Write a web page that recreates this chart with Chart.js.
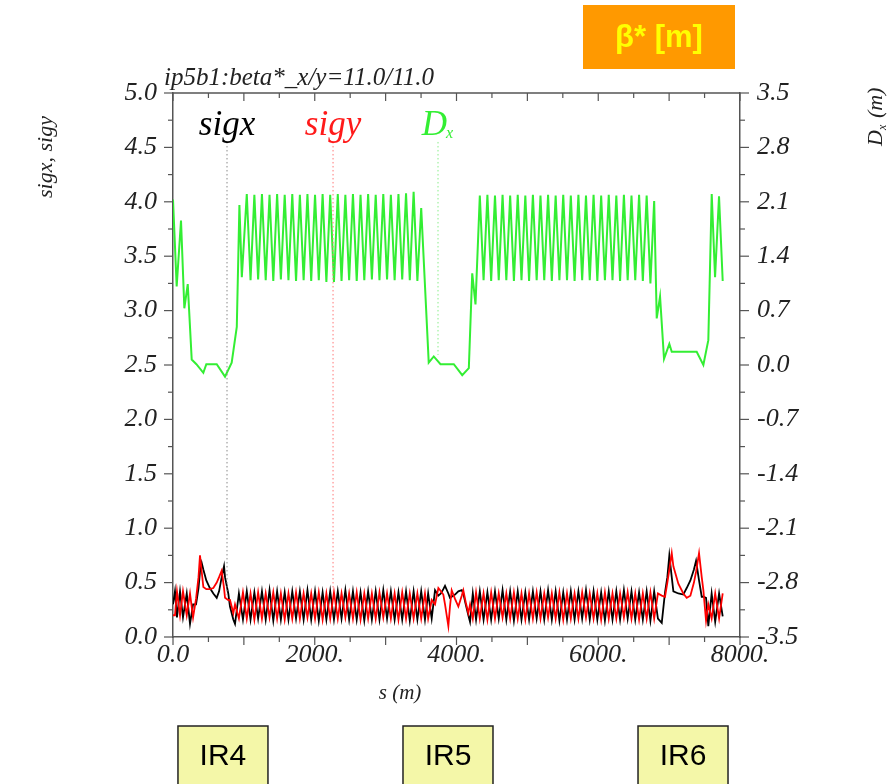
<!DOCTYPE html>
<html>
<head>
<meta charset="utf-8">
<script src="https://cdn.jsdelivr.net/npm/chart.js@4.4.1/dist/chart.umd.min.js"></script>
<style>
  html, body { margin: 0; padding: 0; background: #fff; }
  #container { position: relative; width: 894px; height: 784px; }
</style>
</head>
<body>
<div id="container"><canvas id="myChart"></canvas></div>
<script>
// ---- data (s in m) ----
// dispersion D (right axis, m)
const ir4DxS = [0, 52, 113, 160, 208, 264, 330, 428, 470, 522, 570, 617, 734, 828, 900, 937, 971];
const ir4Dx  = [2.13, 1.01, 1.86, 0.73, 1.04, 0.07, 0.01, -0.10, 0.01, 0.01, 0.01, 0.01, -0.15, 0.03, 0.49, 2.06, 1.13];

const arc1S = [1041,1094, 1148,1201, 1255,1308, 1362,1415, 1469,1522, 1576,1629, 1683,1736, 1790,1843,
               1897,1950, 2004,2057, 2111,2164, 2218,2271, 2325,2378, 2432,2485, 2539,2592, 2646,2699,
               2753,2806, 2860,2913, 2967,3020, 3074,3127, 3181,3234, 3288,3341, 3395,3448, 3502];
const arc1Dx = [2.20,1.09, 2.19,1.10, 2.20,1.09, 2.19,1.08, 2.20,1.10, 2.19,1.09, 2.20,1.08, 2.19,1.09,
                2.20,1.08, 2.19,1.09, 2.20,1.07, 2.19,1.07, 2.20,1.08, 2.19,1.09, 2.20,1.08, 2.19,1.09,
                2.20,1.10, 2.19,1.09, 2.20,1.10, 2.19,1.09, 2.20,1.10, 2.21,1.09, 2.23,1.08, 2.02];

const ir5DxS = [3608, 3679, 3774, 3962, 4081, 4174, 4222, 4268];
const ir5Dx  = [0.03, 0.11, 0.01, 0.01, -0.13, -0.04, 1.18, 0.78];

const arc2S = [4329,4382, 4436,4489, 4543,4596, 4650,4703, 4757,4810, 4864,4917, 4971,5024, 5078,5131,
               5185,5238, 5292,5345, 5399,5452, 5506,5559, 5613,5666, 5720,5773, 5827,5880, 5934,5987,
               6041,6094, 6148,6201, 6255,6308, 6362,6415, 6469,6522, 6576,6629, 6683,6736, 6789];
const arc2Dx = [2.18,1.09, 2.19,1.08, 2.18,1.09, 2.19,1.09, 2.18,1.08, 2.19,1.09, 2.18,1.08, 2.19,1.09,
                2.18,1.09, 2.19,1.08, 2.18,1.09, 2.19,1.09, 2.18,1.08, 2.19,1.09, 2.18,1.09, 2.19,1.08,
                2.18,1.09, 2.19,1.09, 2.18,1.08, 2.19,1.09, 2.18,1.09, 2.19,1.08, 2.18,1.05, 2.11];

const ir6DxS = [6825, 6872, 6928, 7003, 7037, 7389, 7483, 7553, 7601, 7648, 7704, 7756];
const ir6Dx  = [0.60, 0.88, 0.08, 0.27, 0.17, 0.17, 0.00, 0.32, 2.20, 1.13, 2.17, 1.08];

// beam sizes sigx / sigy (left axis)
const ir4SigS = [0, 28, 56, 99, 141, 194, 240, 283, 325, 360, 381, 405, 428, 470, 520, 569, 617, 650, 687, 720, 734, 780, 804, 851, 875, 930, 987];
const ir4SigX = [.30, .42, .18, .42, .18, .40, .12, .30, .30, .45, .60, .68, .62, .52, .45, .40, .36, .42, .55, .65, .55, .40, .28, .16, .12, .40, .16];
const ir4SigY = [.20, .20, .42, .20, .42, .20, .40, .18, .35, .55, .75, .60, .46, .44, .44, .45, .50, .55, .61, .45, .36, .34, .34, .22, .30, .17, .41];

const arc1SigX = [.42,.16, .41,.17, .42,.16, .43,.15, .42,.16, .41,.16, .42,.17, .42,.16,
                  .43,.16, .42,.15, .41,.16, .42,.16, .42,.17, .43,.16, .42,.16, .41,.15,
                  .42,.16, .42,.16, .43,.17, .42,.16, .41,.16, .42,.15, .42,.16, .42];
const arc1SigY = [.17,.40, .16,.41, .17,.40, .18,.41, .17,.40, .16,.40, .17,.41, .17,.40,
                  .18,.40, .17,.41, .16,.40, .17,.41, .17,.40, .18,.40, .17,.41, .16,.40,
                  .17,.40, .17,.41, .18,.40, .17,.40, .16,.41, .17,.40, .17,.40, .17];

const ir5SigS = [3555, 3600, 3650, 3697, 3744, 3780, 3814, 3838, 3885, 3908, 3932, 3979, 4026, 4074, 4096, 4130, 4167, 4191, 4230, 4276];
const ir5SigX = [.16, .40, .17, .43, .38, .40, .44, .47, .40, .36, .37, .39, .42, .43, .40, .30, .20, .14, .40, .16];
const ir5SigY = [.40, .17, .34, .30, .45, .42, .39, .30, .10, .28, .43, .35, .28, .38, .43, .32, .22, .30, .17, .41];

const arc2SigX = [.42,.16, .41,.16, .42,.17, .43,.16, .42,.15, .42,.16, .41,.16, .42,.17,
                  .42,.16, .43,.16, .42,.15, .41,.16, .42,.16, .42,.17, .43,.16, .42,.16,
                  .41,.15, .42,.16, .42,.16, .43,.17, .42,.16, .41,.16, .42,.15, .42];
const arc2SigY = [.17,.40, .16,.41, .17,.40, .18,.40, .17,.41, .17,.40, .16,.40, .17,.41,
                  .17,.40, .18,.40, .17,.41, .16,.40, .17,.40, .17,.41, .18,.40, .17,.40,
                  .16,.41, .17,.40, .17,.40, .18,.41, .17,.40, .16,.40, .17,.41, .17];

const ir6SigS = [6842, 6896, 6942, 6975, 7003, 7037, 7060, 7130, 7200, 7248, 7300, 7350, 7380, 7422, 7460, 7483, 7521, 7553, 7600, 7650, 7705, 7756];
const ir6SigX = [.17, .13, .41, .55, .75, .55, .42, .40, .39, .45, .52, .62, .70, .52, .37, .37, .36, .10, .40, .14, .40, .19];
const ir6SigY = [.40, .38, .37, .50, .62, .77, .65, .49, .40, .36, .38, .50, .60, .77, .55, .43, .15, .30, .17, .40, .17, .40];

// marker labels with dotted drop lines
const markerNames = ['sigx', 'sigy', 'D'];
const markerS = [762, 2258, 3739];
const markerEnd = [0.39, 0.43, 0.13];
const markerTop = 4.55;

// interaction region boxes
const irNames = ['IR4', 'IR5', 'IR6'];
const irS = [705, 3880, 7196];

// ---- build series ----
function pts(sArr, vArr) {
    return sArr.map((s, i) => ({ x: s, y: vArr[i] }));
}
const dxData = [].concat(pts(ir4DxS, ir4Dx), pts(arc1S, arc1Dx), pts(ir5DxS, ir5Dx), pts(arc2S, arc2Dx), pts(ir6DxS, ir6Dx));
const sigxData = [].concat(pts(ir4SigS, ir4SigX), pts(arc1S, arc1SigX), pts(ir5SigS, ir5SigX), pts(arc2S, arc2SigX), pts(ir6SigS, ir6SigX));
const sigyData = [].concat(pts(ir4SigS, ir4SigY), pts(arc1S, arc1SigY), pts(ir5SigS, ir5SigY), pts(arc2S, arc2SigY), pts(ir6SigS, ir6SigY));

const serif = '"Liberation Serif", "Times New Roman", serif';
const sans = '"Liberation Sans", Arial, sans-serif';
const green = '#33ee33';
const tickFont = { family: serif, style: 'italic', size: 26 };

const extras = {
    id: 'extras',
    afterDraw(chart) {
        const ctx = chart.ctx;
        const xs = chart.scales.x, ys = chart.scales.y, yd = chart.scales.y1;
        const a = chart.chartArea;
        const line = (x1, y1, x2, y2) => { ctx.beginPath(); ctx.moveTo(x1, y1); ctx.lineTo(x2, y2); ctx.stroke(); };
        ctx.save();

        // frame top + ticks
        ctx.strokeStyle = '#555';
        ctx.lineWidth = 1.5;
        line(a.left, a.top, a.right, a.top);
        ctx.lineWidth = 1.2;
        xs.ticks.forEach((t, i) => {
            const px = xs.getPixelForValue(t.value);
            const len = i % 2 === 0 ? 8 : 5;
            line(px, a.bottom, px, a.bottom + len);
            line(px, a.top, px, a.top + len);
        });
        ys.ticks.forEach((t, i) => {
            const py = ys.getPixelForValue(t.value);
            line(a.left - (i % 2 === 0 ? 9 : 5), py, a.left, py);
        });
        yd.ticks.forEach((t, i) => {
            const py = yd.getPixelForValue(t.value);
            line(a.right, py, a.right + (i % 2 === 0 ? 9 : 5), py);
        });

        // marker labels + dotted lines
        const mColors = ['#000', '#ff1a1a', green];
        const dotColors = ['#888', '#ff7777', '#88ee88'];
        markerNames.forEach((name, i) => {
            const px = xs.getPixelForValue(markerS[i]);
            const yTop = ys.getPixelForValue(markerTop);
            const yEnd = (i === 2 ? yd : ys).getPixelForValue(markerEnd[i]);
            ctx.setLineDash([1.5, 2.5]);
            ctx.strokeStyle = dotColors[i];
            ctx.lineWidth = 1;
            line(px, yTop, px, yEnd);
            ctx.setLineDash([]);
            ctx.fillStyle = mColors[i];
            ctx.textBaseline = 'alphabetic';
            if (name === 'D') {
                ctx.font = 'italic 35px ' + serif;
                const w = ctx.measureText('D').width;
                ctx.font = 'italic 16px ' + serif;
                const w2 = ctx.measureText('x').width;
                const x0 = px - (w + w2) / 2;
                ctx.textAlign = 'left';
                ctx.font = 'italic 35px ' + serif;
                ctx.fillText('D', x0, yTop - 7);
                ctx.font = 'italic 16px ' + serif;
                ctx.fillText('x', x0 + w - 1, yTop - 4);
            } else {
                ctx.font = 'italic 35px ' + serif;
                ctx.textAlign = 'center';
                ctx.fillText(name, px, yTop - 7);
            }
        });

        // titles
        ctx.fillStyle = '#222';
        ctx.font = 'italic 25px ' + serif;
        ctx.textAlign = 'left';
        ctx.fillText('ip5b1:beta*_x/y=11.0/11.0', 164, 85);

        ctx.font = 'italic 21px ' + serif;
        ctx.textAlign = 'center';
        ctx.fillText('s (m)', 400, 699);

        ctx.save();
        ctx.translate(52, 157);
        ctx.rotate(-Math.PI / 2);
        ctx.font = 'italic 22px ' + serif;
        ctx.textAlign = 'center';
        ctx.fillText('sigx, sigy', 0, 0);
        ctx.restore();

        ctx.save();
        ctx.translate(882, 118);
        ctx.rotate(-Math.PI / 2);
        ctx.font = 'italic 22px ' + serif;
        ctx.textAlign = 'left';
        const dW = ctx.measureText('D').width;
        ctx.fillText('D', -28, 0);
        ctx.font = 'italic 12px ' + serif;
        ctx.fillText('x', -28 + dW, 4);
        ctx.font = 'italic 22px ' + serif;
        ctx.fillText('(m)', -28 + dW + 12, 0);
        ctx.restore();

        // beta* badge
        ctx.fillStyle = '#ff9900';
        ctx.fillRect(583, 5, 152, 64);
        ctx.fillStyle = '#ffff00';
        ctx.font = 'bold 31px ' + sans;
        ctx.textAlign = 'center';
        ctx.textBaseline = 'middle';
        ctx.fillText('\u03b2* [m]', 659, 38);

        // IR boxes
        irNames.forEach((name, i) => {
            const cx = xs.getPixelForValue(irS[i]);
            ctx.fillStyle = '#f4f7a8';
            ctx.fillRect(cx - 45, 726, 90, 70);
            ctx.strokeStyle = '#222';
            ctx.lineWidth = 1.5;
            ctx.strokeRect(cx - 45, 726, 90, 70);
            ctx.fillStyle = '#000';
            ctx.font = '30px ' + sans;
            ctx.fillText(name, cx, 757);
        });
        ctx.restore();
    }
};

const ctx = document.getElementById('myChart').getContext('2d');
new Chart(ctx, {
    type: 'line',
    data: {
        datasets: [
            { label: 'sigy', data: sigyData, yAxisID: 'y', borderColor: '#ff0000', borderWidth: 1.8 },
            { label: 'sigx', data: sigxData, yAxisID: 'y', borderColor: '#000000', borderWidth: 1.8 },
            { label: 'Dx', data: dxData, yAxisID: 'y1', borderColor: green, borderWidth: 2 }
        ]
    },
    options: {
        responsive: true,
        maintainAspectRatio: false,
        animation: false,
        layout: { padding: { top: 93, bottom: 0, left: 0, right: 0 } },
        elements: { point: { radius: 0 }, line: { tension: 0, fill: false } },
        plugins: { legend: { display: false }, tooltip: { enabled: false }, title: { display: false } },
        scales: {
            x: {
                type: 'linear', min: 0, max: 8000,
                afterFit(s) { s.height = 147; },
                border: { color: '#555', width: 1.5 },
                grid: { drawOnChartArea: false, drawTicks: false },
                ticks: {
                    stepSize: 500, autoSkip: false, maxRotation: 0, padding: 3,
                    color: '#222', font: tickFont,
                    callback: (v, i) => i % 4 === 0 ? (v === 0 ? '0.0' : v + '.') : ''
                }
            },
            y: {
                position: 'left', min: 0, max: 5,
                afterFit(s) { s.width = 173; },
                border: { color: '#555', width: 1.5 },
                grid: { drawOnChartArea: false, drawTicks: false },
                ticks: {
                    stepSize: 0.25, autoSkip: false, padding: 16,
                    color: '#222', font: tickFont,
                    callback: (v, i) => i % 2 === 0 ? v.toFixed(1) : ''
                }
            },
            y1: {
                position: 'right', min: -3.5, max: 3.5,
                afterFit(s) { s.width = 154; },
                border: { color: '#555', width: 1.5 },
                grid: { drawOnChartArea: false, drawTicks: false },
                ticks: {
                    stepSize: 0.35, autoSkip: false, padding: 17,
                    color: '#222', font: tickFont,
                    callback: (v, i) => i % 2 === 0 ? (Math.abs(v) < 1e-9 ? '0.0' : v.toFixed(1)) : ''
                }
            }
        }
    },
    plugins: [extras]
});
</script>
</body>
</html>
